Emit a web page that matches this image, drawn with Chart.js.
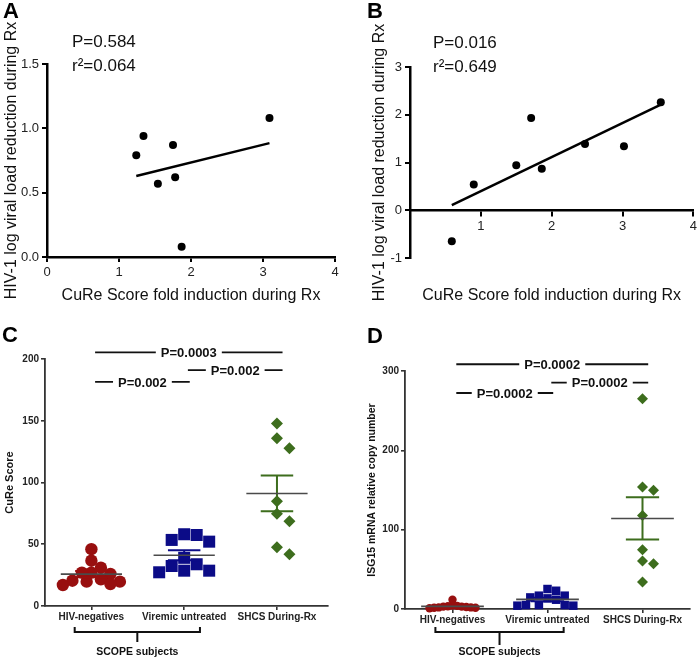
<!DOCTYPE html>
<html>
<head>
<meta charset="utf-8">
<title>CuRe score figure</title>
<script src="https://cdn.jsdelivr.net/npm/chart.js@4.4.1/dist/chart.umd.min.js"></script>
<style>
  html, body { margin: 0; padding: 0; background: #fff; }
  #figure { position: relative; width: 700px; height: 659px; overflow: hidden; }
  #figure canvas { position: absolute; }
  .panel-letter { position: absolute; font: bold 22px "Liberation Sans", Arial, sans-serif; line-height: 22px; color: #000; }
</style>
</head>
<body>
<div id="figure">
  <canvas id="chartA" width="350" height="320" style="left:0;top:0"></canvas>
  <canvas id="chartB" width="350" height="320" style="left:350px;top:0"></canvas>
  <canvas id="chartC" width="350" height="339" style="left:0;top:320px"></canvas>
  <canvas id="chartD" width="350" height="339" style="left:350px;top:320px"></canvas>
  <div class="panel-letter" style="left:3px;top:0">A</div>
  <div class="panel-letter" style="left:367px;top:0">B</div>
  <div class="panel-letter" style="left:2px;top:324px">C</div>
  <div class="panel-letter" style="left:367px;top:325px">D</div>
</div>
<script>
// Panel A: fold induction vs viral load reduction
const foldA = [1.24, 1.34, 1.54, 1.75, 1.78, 1.87, 3.09];
const reductionA = [0.79, 0.94, 0.57, 0.87, 0.62, 0.08, 1.08];
const statsA = ['P=0.584', 'r\u00b2=0.064'];

// Panel B
const foldB = [0.59, 0.90, 1.50, 1.71, 1.86, 2.47, 3.02, 3.54];
const reductionB = [-0.65, 0.54, 0.94, 1.93, 0.87, 1.39, 1.34, 2.26];
const statsB = ['P=0.016', 'r\u00b2=0.649'];

// Panels C and D: groups
const groupLabels = ['HIV-negatives', 'Viremic untreated', 'SHCS During-Rx'];
const cureNeg = [46.0, 36.7, 31.0, 27.0, 27.0, 26.0, 21.6, 20.5, 19.7, 19.7, 17.8, 17.0];
const cureViremic = [57.5, 52.1, 53.5, 58.1, 39.0, 33.8, 28.6, 27.3, 28.6, 32.4];
const cureShcs = [147.8, 135.9, 127.8, 84.9, 74.6, 68.6, 47.6, 41.9];
const isgNeg = [11.7, 4.5, 4.0, 3.5, 3.0, 3.0, 2.5, 2.0, 2.0, 1.5, 1.5, 1.0];
const isgViremic = [25.2, 23.0, 16.8, 16.8, 14.6, 13.4, 11.7, 5.0, 5.0, 4.2, 5.0, 4.2];
const isgShcs = [265.0, 153.8, 149.6, 118.0, 74.8, 60.5, 57.1, 34.0];

// Significance bars: group pair, height on the y axis, label
const sigPairs = [[1, 3], [2, 3], [1, 2]];
const sigLevelsC = [205.4, 191, 181.4];
const sigLabelsC = ['P=0.0003', 'P=0.002', 'P=0.002'];
const sigLevelsD = [308.5, 285.4, 272.3];
const sigLabelsD = ['P=0.0002', 'P=0.0002', 'P=0.0002'];

const FONT = '"Liberation Sans", Arial, Helvetica, sans-serif';
Chart.defaults.font.family = FONT;
Chart.defaults.color = '#111';

// Least squares line across the observed x range
function regression(xs, ys) {
    const n = xs.length;
    const mx = xs.reduce((a, b) => a + b, 0) / n;
    const my = ys.reduce((a, b) => a + b, 0) / n;
    let sxy = 0, sxx = 0;
    xs.forEach((x, i) => { sxy += (x - mx) * (ys[i] - my); sxx += (x - mx) * (x - mx); });
    const slope = sxy / sxx;
    const x0 = Math.min(...xs), x1 = Math.max(...xs);
    return [{x: x0, y: my + slope * (x0 - mx)}, {x: x1, y: my + slope * (x1 - mx)}];
}

function meanSem(values) {
    const n = values.length;
    const m = values.reduce((a, b) => a + b, 0) / n;
    const sd = Math.sqrt(values.reduce((a, v) => a + (v - m) * (v - m), 0) / (n - 1));
    return {mean: m, sem: sd / Math.sqrt(n)};
}

// P value and r2 text in the corner of the scatter panels
const statsText = {
    id: 'statsText',
    afterDraw(chart, args, opts) {
        if (!opts.lines) return;
        const {ctx, chartArea} = chart;
        ctx.save();
        ctx.font = '17px ' + FONT;
        ctx.fillStyle = '#111';
        opts.lines.forEach((t, i) => {
            ctx.fillText(t, chartArea.left + opts.dx, chartArea.top + opts.dy + i * 23.5);
        });
        ctx.restore();
    }
};

// Significance bars above the groups and the SCOPE bracket under the axis
const groupAnnotations = {
    id: 'groupAnnotations',
    afterDraw(chart, args, opts) {
        if (!opts.levels) return;
        const {ctx, chartArea} = chart;
        const x = chart.scales.x, y = chart.scales.y;
        ctx.save();
        ctx.strokeStyle = '#111';
        ctx.fillStyle = '#111';
        ctx.lineWidth = 1.8;
        ctx.font = 'bold 13px ' + FONT;
        ctx.textAlign = 'center';
        ctx.textBaseline = 'middle';
        sigPairs.forEach((pair, i) => {
            const x0 = x.getPixelForValue(pair[0] + 0.04);
            const x1 = x.getPixelForValue(pair[1] + 0.06);
            const py = y.getPixelForValue(opts.levels[i]);
            const half = ctx.measureText(opts.labels[i]).width / 2 + 5;
            const mid = (x0 + x1) / 2;
            ctx.beginPath();
            ctx.moveTo(x0, py); ctx.lineTo(mid - half, py);
            ctx.moveTo(mid + half, py); ctx.lineTo(x1, py);
            ctx.stroke();
            ctx.fillText(opts.labels[i], mid, py + 1);
        });

        const b = opts.bracket;
        const bx0 = x.getPixelForValue(0.82), bx1 = x.getPixelForValue(2.17);
        const bm = (bx0 + bx1) / 2;
        const by = chartArea.bottom + b.offset;
        ctx.lineWidth = 2;
        ctx.beginPath();
        ctx.moveTo(bx0, by - 5); ctx.lineTo(bx0, by); ctx.lineTo(bx1, by); ctx.lineTo(bx1, by - 5);
        ctx.moveTo(bm, by); ctx.lineTo(bm, by + b.stub);
        ctx.stroke();
        ctx.font = 'bold 10.5px ' + FONT;
        ctx.fillText('SCOPE subjects', bm, by + 20);
        ctx.restore();
    }
};

Chart.register(statsText, groupAnnotations);

function scatterPanel(id, xs, ys, stats, cfg) {
    const scales = {
        x: {
            type: 'linear', min: 0, max: 4,
            position: cfg.xAtZero ? {y: 0} : 'bottom',
            afterBuildTicks: s => { s.ticks = cfg.xTicks.map(v => ({value: v})); },
            ticks: { font: {size: 13}, color: '#222', padding: 3, maxRotation: 0 },
            grid: { drawOnChartArea: false, tickLength: 5, color: '#000', lineWidth: 2 },
            border: { color: '#000', width: 2.5 },
            title: { display: !cfg.xAtZero, text: 'CuRe Score fold induction during Rx', font: {size: 16}, color: '#111', padding: {top: 0, bottom: 15} },
            afterFit: s => { if (!cfg.xAtZero) s.height = cfg.bottom; }
        },
        y: {
            type: 'linear', min: cfg.yMin, max: cfg.yMax,
            ticks: { stepSize: cfg.yStep, font: {size: 13}, color: '#222', padding: 3,
                     callback: v => cfg.yStep < 1 ? v.toFixed(1) : String(v) },
            grid: { drawOnChartArea: false, tickLength: 5, color: '#000', lineWidth: 2 },
            border: { color: '#000', width: 2.5 },
            title: { display: true, text: 'HIV-1 log viral load reduction during Rx', font: {size: 16}, color: '#111', padding: {top: 2, bottom: 0} },
            afterFit: s => { s.width = cfg.yWidth; }
        }
    };
    if (cfg.xAtZero) {
        // separate bottom axis that only carries the title
        scales.x2 = {
            type: 'linear', min: 0, max: 4, position: 'bottom',
            ticks: { display: false }, grid: { display: false }, border: { display: false },
            title: { display: true, text: 'CuRe Score fold induction during Rx', font: {size: 16}, color: '#111', padding: {top: 0, bottom: 15} },
            afterFit: s => { s.height = cfg.bottom; }
        };
    }
    return new Chart(document.getElementById(id), {
        type: 'scatter',
        data: {
            datasets: [
                { data: regression(xs, ys), showLine: true, borderColor: '#000', borderWidth: 2.5, pointRadius: 0, order: 0, clip: false },
                { data: xs.map((x, i) => ({x: x, y: ys[i]})), pointRadius: 4, backgroundColor: '#000', borderWidth: 0, order: 1, clip: false }
            ]
        },
        options: {
            responsive: false, animation: false,
            layout: { padding: cfg.padding },
            plugins: {
                legend: { display: false }, tooltip: { enabled: false },
                statsText: { lines: stats, dx: cfg.statsDx, dy: cfg.statsDy }
            },
            scales: scales
        }
    });
}

scatterPanel('chartA', foldA, reductionA, statsA, {
    xTicks: [0, 1, 2, 3, 4], yMin: 0, yMax: 1.5, yStep: 0.5, yWidth: 47, bottom: 63,
    padding: {top: 64, right: 15, left: 0, bottom: 0}, statsDx: 25, statsDy: -17
});
scatterPanel('chartB', foldB, reductionB, statsB, {
    xAtZero: true, xTicks: [1, 2, 3, 4], yMin: -1, yMax: 3, yStep: 1, yWidth: 42, bottom: 62,
    padding: {top: 67, right: 5, left: 18, bottom: 0}, statsDx: 23, statsDy: -19
});

// Greedy beeswarm: each point takes the nearest free slot beside the group centre
function swarm(chart, center, values, gap) {
    const xs = chart.scales.x, ys = chart.scales.y;
    const unit = xs.getPixelForValue(1) - xs.getPixelForValue(0);
    const step = gap / 2;
    const placed = [];
    const out = new Array(values.length);
    const order = values.map((v, i) => i).sort((a, b) => values[b] - values[a]);
    order.forEach(i => {
        const py = ys.getPixelForValue(values[i]);
        for (let k = 0; k < 60; k++) {
            const off = (k % 2 ? 1 : -1) * Math.ceil(k / 2) * step;
            if (placed.every(p => Math.hypot(p.x - off, p.y - py) >= gap - 0.01)) {
                placed.push({x: off, y: py});
                out[i] = {x: center + off / unit, y: values[i]};
                break;
            }
        }
    });
    return out;
}

function groupPanel(id, groups, cfg) {
    const datasets = [];
    groups.forEach((g, i) => {
        const c = i + 1;
        const s = meanSem(g.values);
        datasets.push({
            data: [{x: c - 0.33, y: s.mean}, {x: c + 0.33, y: s.mean}],
            showLine: true, borderColor: '#4a4a4a', borderWidth: 1.6, pointRadius: 0, order: 0, clip: false
        });
        const hi = s.mean + s.sem, lo = s.mean - s.sem;
        datasets.push({
            data: [
                {x: c - 0.175, y: hi}, {x: c + 0.175, y: hi}, {x: c, y: null},
                {x: c, y: hi}, {x: c, y: lo}, {x: c, y: null},
                {x: c - 0.175, y: lo}, {x: c + 0.175, y: lo}
            ],
            showLine: true, spanGaps: false, borderColor: g.color, borderWidth: 2, pointRadius: 0, order: 0, clip: false
        });
        g.datasetIndex = datasets.length;
        datasets.push({
            data: g.values.map(v => ({x: c, y: v})),
            pointStyle: g.style, pointRadius: g.radius, backgroundColor: g.color,
            borderColor: g.color, borderWidth: 0, order: 1, clip: false
        });
    });

    const chart = new Chart(document.getElementById(id), {
        type: 'scatter',
        data: { datasets: datasets },
        options: {
            responsive: false, animation: false,
            layout: { padding: cfg.padding },
            plugins: {
                legend: { display: false }, tooltip: { enabled: false },
                groupAnnotations: { levels: cfg.sigLevels, labels: cfg.sigLabels, bracket: cfg.bracket }
            },
            scales: {
                x: {
                    type: 'linear', min: 0.5, max: cfg.xMax,
                    afterBuildTicks: s => { s.ticks = groupLabels.map((l, i) => ({value: i + 1})); },
                    ticks: { font: {size: 10, weight: 'bold'}, color: '#222', padding: 1,
                             autoSkip: false, maxRotation: 0, minRotation: 0,
                             callback: v => groupLabels[v - 1] },
                    grid: { drawOnChartArea: false, tickLength: 4, color: '#333', lineWidth: 1.6 },
                    border: { color: '#333', width: 1.8 },
                    afterFit: s => { s.height = cfg.bottom; }
                },
                y: {
                    type: 'linear', min: 0, max: cfg.yMax,
                    ticks: { stepSize: cfg.yStep, font: {size: 10, weight: 'bold'}, color: '#222', padding: 2 },
                    grid: { drawOnChartArea: false, tickLength: 4, color: '#333', lineWidth: 1.6 },
                    border: { color: '#333', width: 1.8 },
                    title: { display: true, text: cfg.yTitle, font: {size: cfg.yTitleSize, weight: 'bold'}, color: '#111',
                             padding: {top: cfg.yTitlePad, bottom: 0} },
                    afterFit: s => { s.width = cfg.yWidth; }
                }
            }
        }
    });

    groups.forEach((g, i) => {
        chart.data.datasets[g.datasetIndex].data = swarm(chart, i + 1, g.values, g.gap);
    });
    chart.update('none');
    return chart;
}

const RED = '#980f0f', BLUE = '#0b0b87', GREEN = '#3d6d1d';

groupPanel('chartC', [
    { values: cureNeg, color: RED, style: 'circle', radius: 6.2, gap: 9.5 },
    { values: cureViremic, color: BLUE, style: 'rect', radius: 8.5, gap: 12.5 },
    { values: cureShcs, color: GREEN, style: 'rectRot', radius: 6, gap: 12.5 }
], {
    xMax: 3.55, yMax: 200, yStep: 50, yWidth: 45, bottom: 53,
    yTitle: 'CuRe Score', yTitleSize: 11, yTitlePad: 3,
    padding: {top: 39, right: 22, left: 0, bottom: 0},
    sigLevels: sigLevelsC, sigLabels: sigLabelsC,
    bracket: { offset: 26, stub: 10 }
});

groupPanel('chartD', [
    { values: isgNeg, color: RED, style: 'circle', radius: 4.2, gap: 4.6 },
    { values: isgViremic, color: BLUE, style: 'rect', radius: 6, gap: 8.6 },
    { values: isgShcs, color: GREEN, style: 'rectRot', radius: 5.5, gap: 11 }
], {
    xMax: 3.5, yMax: 300, yStep: 100, yWidth: 42, bottom: 50,
    yTitle: 'ISG15 mRNA relative copy number', yTitleSize: 10.5, yTitlePad: 3,
    padding: {top: 51, right: 10, left: 13, bottom: 0},
    sigLevels: sigLevelsD, sigLabels: sigLabelsD,
    bracket: { offset: 23, stub: 13 }
});
</script>
</body>
</html>
